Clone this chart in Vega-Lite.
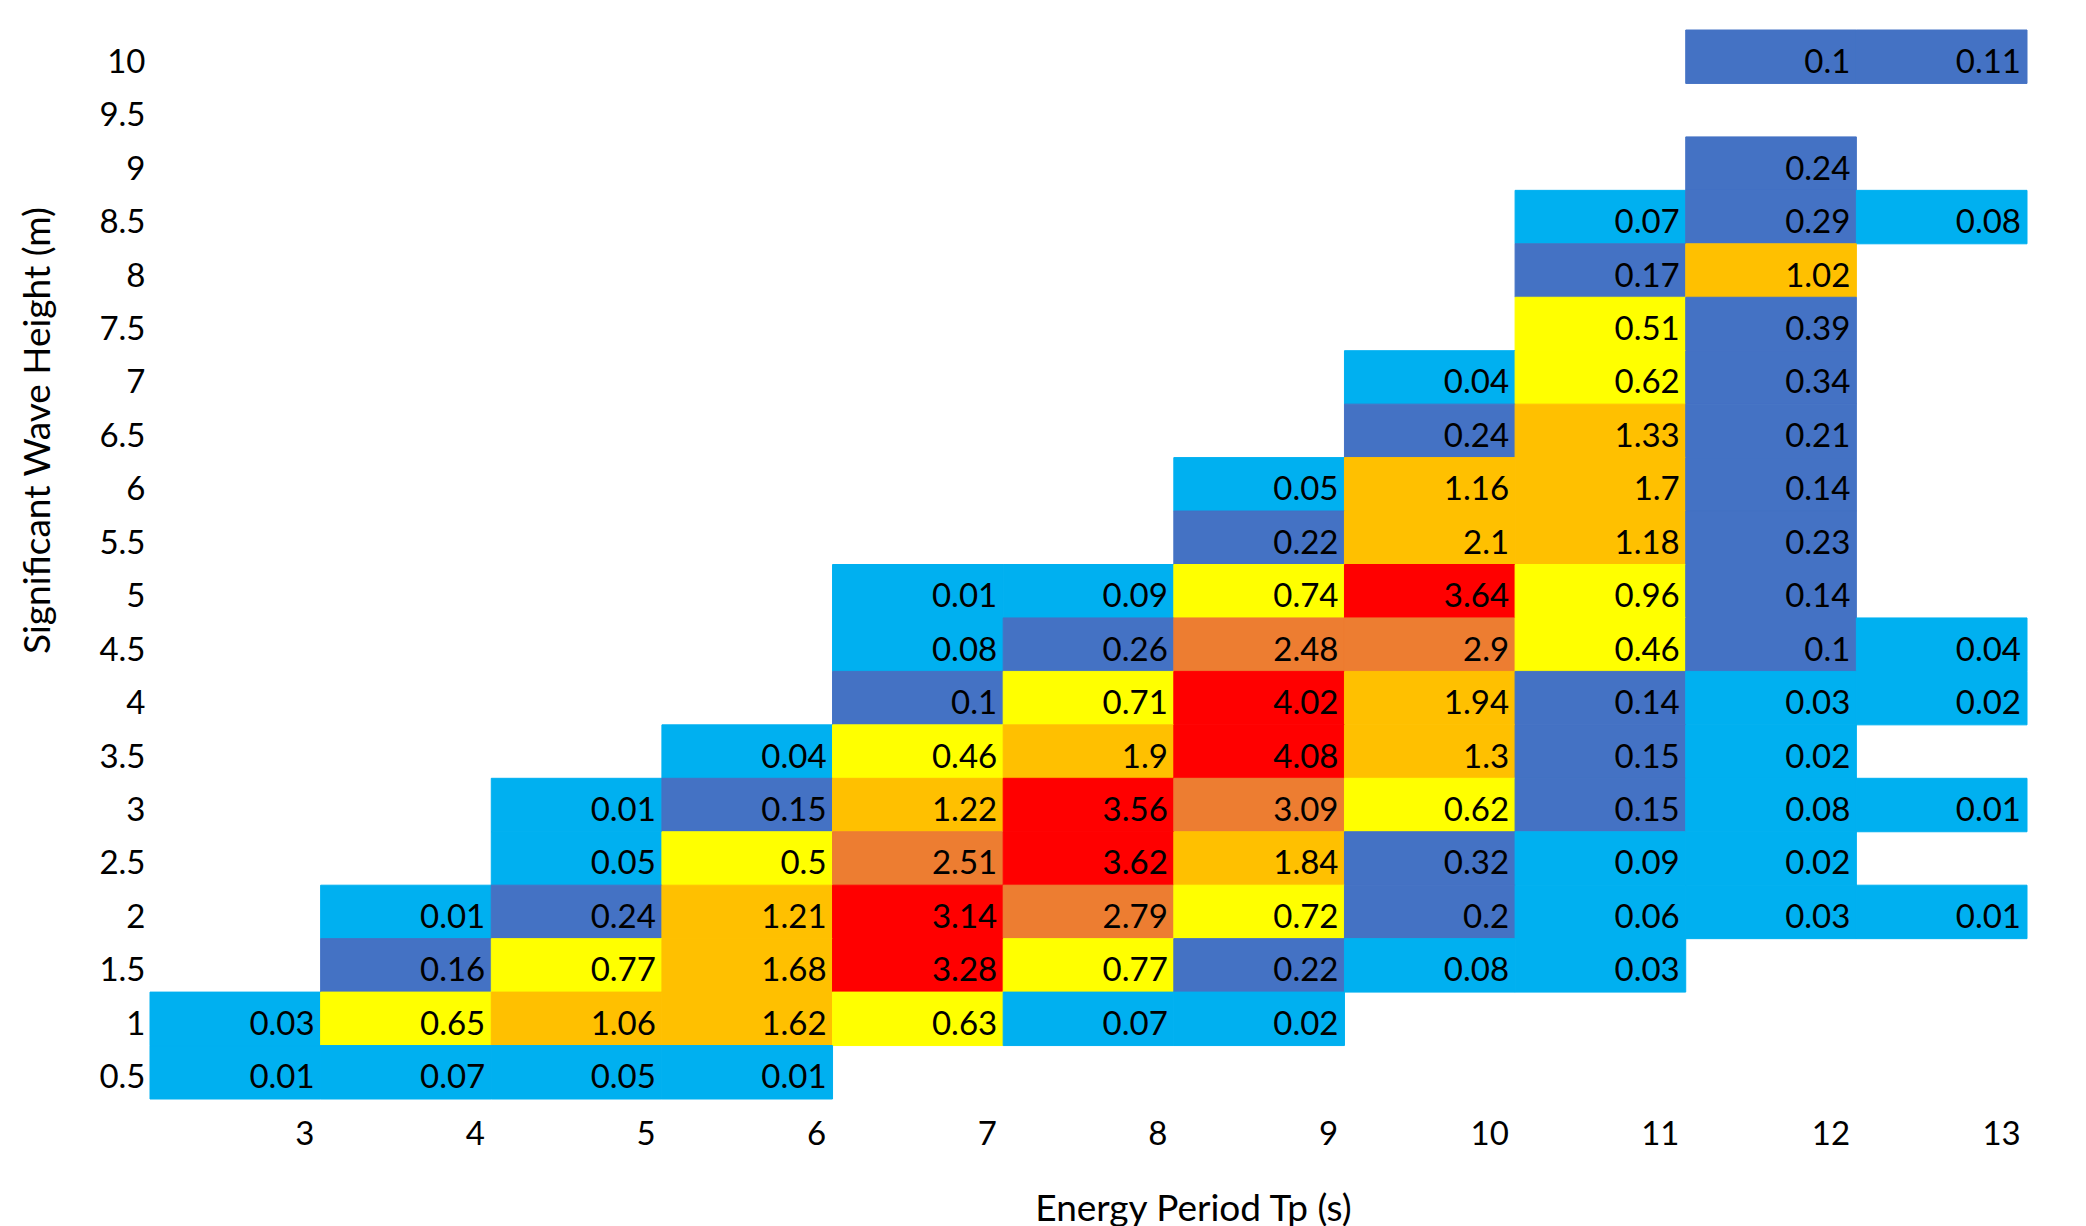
{
  "$schema": "https://vega.github.io/schema/vega-lite/v6.json",
  "width": 1877,
  "height": 1069,
  "autosize": "none",
  "padding": {"left": 150, "top": 30, "right": 59, "bottom": 127},
  "background": "white",
  "config": {"view": {"stroke": null}, "font": "Lato"},
  "data": {"values": [
    {"Hs": 10, "Tp": 12, "v": 0.1}, {"Hs": 10, "Tp": 13, "v": 0.11},
    {"Hs": 9, "Tp": 12, "v": 0.24},
    {"Hs": 8.5, "Tp": 11, "v": 0.07}, {"Hs": 8.5, "Tp": 12, "v": 0.29}, {"Hs": 8.5, "Tp": 13, "v": 0.08},
    {"Hs": 8, "Tp": 11, "v": 0.17}, {"Hs": 8, "Tp": 12, "v": 1.02},
    {"Hs": 7.5, "Tp": 11, "v": 0.51}, {"Hs": 7.5, "Tp": 12, "v": 0.39},
    {"Hs": 7, "Tp": 10, "v": 0.04}, {"Hs": 7, "Tp": 11, "v": 0.62}, {"Hs": 7, "Tp": 12, "v": 0.34},
    {"Hs": 6.5, "Tp": 10, "v": 0.24}, {"Hs": 6.5, "Tp": 11, "v": 1.33}, {"Hs": 6.5, "Tp": 12, "v": 0.21},
    {"Hs": 6, "Tp": 9, "v": 0.05}, {"Hs": 6, "Tp": 10, "v": 1.16}, {"Hs": 6, "Tp": 11, "v": 1.7}, {"Hs": 6, "Tp": 12, "v": 0.14},
    {"Hs": 5.5, "Tp": 9, "v": 0.22}, {"Hs": 5.5, "Tp": 10, "v": 2.1}, {"Hs": 5.5, "Tp": 11, "v": 1.18}, {"Hs": 5.5, "Tp": 12, "v": 0.23},
    {"Hs": 5, "Tp": 7, "v": 0.01}, {"Hs": 5, "Tp": 8, "v": 0.09}, {"Hs": 5, "Tp": 9, "v": 0.74}, {"Hs": 5, "Tp": 10, "v": 3.64}, {"Hs": 5, "Tp": 11, "v": 0.96}, {"Hs": 5, "Tp": 12, "v": 0.14},
    {"Hs": 4.5, "Tp": 7, "v": 0.08}, {"Hs": 4.5, "Tp": 8, "v": 0.26}, {"Hs": 4.5, "Tp": 9, "v": 2.48}, {"Hs": 4.5, "Tp": 10, "v": 2.9}, {"Hs": 4.5, "Tp": 11, "v": 0.46}, {"Hs": 4.5, "Tp": 12, "v": 0.1}, {"Hs": 4.5, "Tp": 13, "v": 0.04},
    {"Hs": 4, "Tp": 7, "v": 0.1}, {"Hs": 4, "Tp": 8, "v": 0.71}, {"Hs": 4, "Tp": 9, "v": 4.02}, {"Hs": 4, "Tp": 10, "v": 1.94}, {"Hs": 4, "Tp": 11, "v": 0.14}, {"Hs": 4, "Tp": 12, "v": 0.03}, {"Hs": 4, "Tp": 13, "v": 0.02},
    {"Hs": 3.5, "Tp": 6, "v": 0.04}, {"Hs": 3.5, "Tp": 7, "v": 0.46}, {"Hs": 3.5, "Tp": 8, "v": 1.9}, {"Hs": 3.5, "Tp": 9, "v": 4.08}, {"Hs": 3.5, "Tp": 10, "v": 1.3}, {"Hs": 3.5, "Tp": 11, "v": 0.15}, {"Hs": 3.5, "Tp": 12, "v": 0.02},
    {"Hs": 3, "Tp": 5, "v": 0.01}, {"Hs": 3, "Tp": 6, "v": 0.15}, {"Hs": 3, "Tp": 7, "v": 1.22}, {"Hs": 3, "Tp": 8, "v": 3.56}, {"Hs": 3, "Tp": 9, "v": 3.09}, {"Hs": 3, "Tp": 10, "v": 0.62}, {"Hs": 3, "Tp": 11, "v": 0.15}, {"Hs": 3, "Tp": 12, "v": 0.08}, {"Hs": 3, "Tp": 13, "v": 0.01},
    {"Hs": 2.5, "Tp": 5, "v": 0.05}, {"Hs": 2.5, "Tp": 6, "v": 0.5}, {"Hs": 2.5, "Tp": 7, "v": 2.51}, {"Hs": 2.5, "Tp": 8, "v": 3.62}, {"Hs": 2.5, "Tp": 9, "v": 1.84}, {"Hs": 2.5, "Tp": 10, "v": 0.32}, {"Hs": 2.5, "Tp": 11, "v": 0.09}, {"Hs": 2.5, "Tp": 12, "v": 0.02},
    {"Hs": 2, "Tp": 4, "v": 0.01}, {"Hs": 2, "Tp": 5, "v": 0.24}, {"Hs": 2, "Tp": 6, "v": 1.21}, {"Hs": 2, "Tp": 7, "v": 3.14}, {"Hs": 2, "Tp": 8, "v": 2.79}, {"Hs": 2, "Tp": 9, "v": 0.72}, {"Hs": 2, "Tp": 10, "v": 0.2}, {"Hs": 2, "Tp": 11, "v": 0.06}, {"Hs": 2, "Tp": 12, "v": 0.03}, {"Hs": 2, "Tp": 13, "v": 0.01},
    {"Hs": 1.5, "Tp": 4, "v": 0.16}, {"Hs": 1.5, "Tp": 5, "v": 0.77}, {"Hs": 1.5, "Tp": 6, "v": 1.68}, {"Hs": 1.5, "Tp": 7, "v": 3.28}, {"Hs": 1.5, "Tp": 8, "v": 0.77}, {"Hs": 1.5, "Tp": 9, "v": 0.22}, {"Hs": 1.5, "Tp": 10, "v": 0.08}, {"Hs": 1.5, "Tp": 11, "v": 0.03},
    {"Hs": 1, "Tp": 3, "v": 0.03}, {"Hs": 1, "Tp": 4, "v": 0.65}, {"Hs": 1, "Tp": 5, "v": 1.06}, {"Hs": 1, "Tp": 6, "v": 1.62}, {"Hs": 1, "Tp": 7, "v": 0.63}, {"Hs": 1, "Tp": 8, "v": 0.07}, {"Hs": 1, "Tp": 9, "v": 0.02},
    {"Hs": 0.5, "Tp": 3, "v": 0.01}, {"Hs": 0.5, "Tp": 4, "v": 0.07}, {"Hs": 0.5, "Tp": 5, "v": 0.05}, {"Hs": 0.5, "Tp": 6, "v": 0.01}
  ]},
  "encoding": {
    "x": {
      "field": "Tp", "type": "ordinal",
      "scale": {"domain": [3, 4, 5, 6, 7, 8, 9, 10, 11, 12, 13], "paddingInner": 0, "paddingOuter": 0},
      "axis": {
        "title": "Energy Period Tp (s)", "labelAngle": 0, "domain": false, "ticks": false, "grid": false,
        "labelAlign": "right", "labelOffset": 79, "labelBaseline": "alphabetic", "labelPadding": 45,
        "labelFontSize": 33, "labelColor": "black", "labelFont": "Lato",
        "titleFontSize": 37, "titleFontWeight": "normal", "titleColor": "black", "titleFont": "Lato",
        "titleX": 1043, "titleY": 121, "titleBaseline": "alphabetic", "titleAlign": "center"
      }
    },
    "y": {
      "field": "Hs", "type": "ordinal",
      "scale": {"domain": [10, 9.5, 9, 8.5, 8, 7.5, 7, 6.5, 6, 5.5, 5, 4.5, 4, 3.5, 3, 2.5, 2, 1.5, 1, 0.5], "paddingInner": 0, "paddingOuter": 0},
      "axis": {
        "title": "Significant Wave Height (m)", "domain": false, "ticks": false, "grid": false,
        "labelAlign": "right", "labelBaseline": "alphabetic", "labelOffset": 16, "labelPadding": 5,
        "labelFontSize": 33, "labelColor": "black", "labelFont": "Lato",
        "titleFontSize": 37, "titleFontWeight": "normal", "titleColor": "black", "titleFont": "Lato",
        "titleAngle": -90, "titleX": -101, "titleY": 400, "titleBaseline": "alphabetic", "titleAlign": "center"
      }
    }
  },
  "layer": [
    {
      "mark": {"type": "rect", "strokeWidth": 1},
      "encoding": {
        "color": {
          "field": "v", "type": "quantitative",
          "scale": {"type": "threshold", "domain": [0.1, 0.45, 1, 2.2, 3.1], "range": ["#00B0F0", "#4472C4", "#FFFF00", "#FFC000", "#ED7D31", "#FF0000"]},
          "legend": null
        },
        "stroke": {
          "field": "v", "type": "quantitative",
          "scale": {"type": "threshold", "domain": [0.1, 0.45, 1, 2.2, 3.1], "range": ["#00B0F0", "#4472C4", "#FFFF00", "#FFC000", "#ED7D31", "#FF0000"]},
          "legend": null
        }
      }
    },
    {
      "mark": {"type": "text", "align": "right", "baseline": "alphabetic", "dx": -6, "dy": 16, "fontSize": 33, "font": "Lato", "color": "black"},
      "encoding": {
        "x": {"field": "Tp", "type": "ordinal", "bandPosition": 1},
        "text": {"field": "v", "type": "quantitative"}
      }
    }
  ]
}
